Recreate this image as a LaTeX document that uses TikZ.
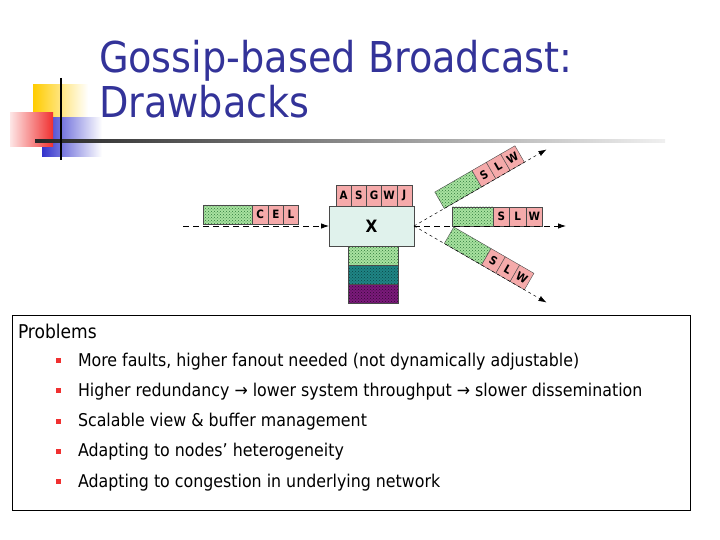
\documentclass[tikz,border=0pt]{standalone}
\usepackage{fontspec}
\setmainfont{DejaVu Sans Condensed}
\usetikzlibrary{positioning,patterns,arrows.meta}
\definecolor{titelblau}{HTML}{333399}
\definecolor{gelb}{HTML}{FFCC00}
\definecolor{rot}{HTML}{F03030}
\definecolor{blau}{HTML}{3333CC}
\definecolor{rosa}{HTML}{F5AAAA}
\definecolor{gruen}{HTML}{A8E2A0}
\definecolor{gruenpkt}{HTML}{2F7A3A}
\definecolor{petrol}{HTML}{1F8585}
\definecolor{petrolpkt}{HTML}{0A4545}
\definecolor{lila}{HTML}{7A1A7A}
\definecolor{lilapkt}{HTML}{350835}
\definecolor{mint}{HTML}{E0F2EC}
\definecolor{rand}{HTML}{4A4A4A}

\begin{document}
\begin{tikzpicture}[x=1pt,y=-1pt,
        every node/.style={inner sep=0pt,outer sep=0pt},
        pkt/.style={draw=rand,fill=rosa,minimum width=16.5pt,minimum height=19pt,font=\bfseries\fontsize{11.5}{11.5}\selectfont},
        last/.style={draw=rand,preaction={fill=gruen},pattern=crosshatch dots,pattern color=gruenpkt,minimum height=19pt},
        petrollast/.style={last,preaction={fill=petrol},pattern color=petrolpkt},
        lilalast/.style={last,preaction={fill=lila},pattern color=lilapkt},
        langpfeil/.style={black,line width=0.8pt,dash pattern=on 6pt off 4pt,-{Latex[length=8pt,width=5.5pt]}},
        fachpfeil/.style={black,line width=0.5pt,dash pattern=on 3pt off 3pt,-{Latex[length=8pt,width=5.5pt]}},
        punkt/.style={fill=rot,minimum size=5pt},
        zeile/.style={anchor=base west,font=\fontsize{17.6}{20}\selectfont},
      ]
      \useasboundingbox (0,0) rectangle (720,540);
      % title decoration
      \shade[left color=gelb,middle color=gelb,right color=white] (33,85) rectangle (88,118);
      \shade[left color=blau,middle color=blau,right color=white] (42,118) rectangle (102,157);
      \shade[left color=rot!12,right color=rot] (10,113) rectangle (53,147);
      \shade[left color=black!85,right color=black!6] (35,140) rectangle (665,142.5);
      \draw[line width=2pt] (61,78) -- (61,160);
      \node[anchor=base west,text=titelblau,font=\fontsize{42.5}{42.5}\selectfont] (titel1) at (99,73) {Gossip-based Broadcast:};
      \node[anchor=base west,text=titelblau,font=\fontsize{42.5}{42.5}\selectfont] (titel2) at (99,118) {Drawbacks};

      % node X
      \node[draw=rand,fill=mint,minimum width=85pt,minimum height=40pt,anchor=north west,font=\bfseries\fontsize{17}{17}\selectfont] (x) at (329,206) {X};
      \node[pkt,minimum width=15.2pt,minimum height=21pt,anchor=south west] (a) at (336,206) {A};
      \node[pkt,minimum width=15.2pt,minimum height=21pt,right=0pt of a] (s) {S};
      \node[pkt,minimum width=15.2pt,minimum height=21pt,right=0pt of s] (g) {G};
      \node[pkt,minimum width=15.2pt,minimum height=21pt,right=0pt of g] (w) {W};
      \node[pkt,minimum width=15.2pt,minimum height=21pt,right=0pt of w] (j) {J};
      \node[last,minimum width=50pt,anchor=north west] (puf1) at (348,246) {};
      \node[petrollast,minimum width=50pt,below=0pt of puf1] (puf2) {};
      \node[lilalast,minimum width=50pt,below=0pt of puf2] (puf3) {};

      % incoming message
      \coordinate (quelle) at (183,226);
      \node[last,minimum width=49pt,anchor=south west] (ein) at (203,224) {};
      \node[pkt,right=0pt of ein] (c) {C};
      \node[pkt,minimum width=15pt,right=0pt of c] (e) {E};
      \node[pkt,minimum width=15pt,right=0pt of e] (l) {L};
      \draw[langpfeil] (quelle) -- (x.west);

      % outgoing messages
      \node[last,minimum width=41pt,anchor=south west] (mid) at (452,226) {};
      \node[pkt,right=0pt of mid] (ms) {S};
      \node[pkt,right=0pt of ms] (ml) {L};
      \node[pkt,right=0pt of ml] (mw) {W};
      \coordinate (midziel) at (566,226);
      \begin{scope}[shift={(x.east)},rotate=30,transform shape]
        \node[last,minimum width=43pt,anchor=south west] (ob) at (35,0) {};
        \node[pkt,right=0pt of ob] (obs) {S};
        \node[pkt,right=0pt of obs] (obl) {L};
        \node[pkt,right=0pt of obl] (obw) {W};
        \coordinate (obziel) at (153,0);
      \end{scope}
      \begin{scope}[shift={(x.east)},rotate=-30,transform shape]
        \node[last,minimum width=43pt,anchor=south west] (un) at (35,0) {};
        \node[pkt,right=0pt of un] (uns) {S};
        \node[pkt,right=0pt of uns] (unl) {L};
        \node[pkt,right=0pt of unl] (unw) {W};
        \coordinate (unziel) at (153,0);
      \end{scope}
      \draw[langpfeil] (x.east) -- (midziel);
      \draw[fachpfeil] (x.east) -- (obziel);
      \draw[fachpfeil] (x.east) -- (unziel);

      % problems
      \node[draw=black,line width=0.8pt,minimum width=678pt,minimum height=195pt,anchor=north west] (rahmen) at (12,315) {};
      \node[anchor=base west,font=\fontsize{19}{20}\selectfont] (probleme) at (18,338) {Problems};
      \node[punkt] (b1) at (58,360.5) {};
      \node[zeile] (p1) at (78,366) {More faults, higher fanout needed (not dynamically adjustable)};
      \node[punkt] (b2) at (58,390.5) {};
      \node[zeile] (p2) at (78,396) {Higher redundancy → lower system throughput → slower dissemination};
      \node[punkt] (b3) at (58,421) {};
      \node[zeile] (p3) at (78,426.5) {Scalable view \& buffer management};
      \node[punkt] (b4) at (58,451) {};
      \node[zeile] (p4) at (78,456.5) {Adapting to nodes’ heterogeneity};
      \node[punkt] (b5) at (58,481.5) {};
      \node[zeile] (p5) at (78,487) {Adapting to congestion in underlying network};
    \end{tikzpicture}
\end{document}
